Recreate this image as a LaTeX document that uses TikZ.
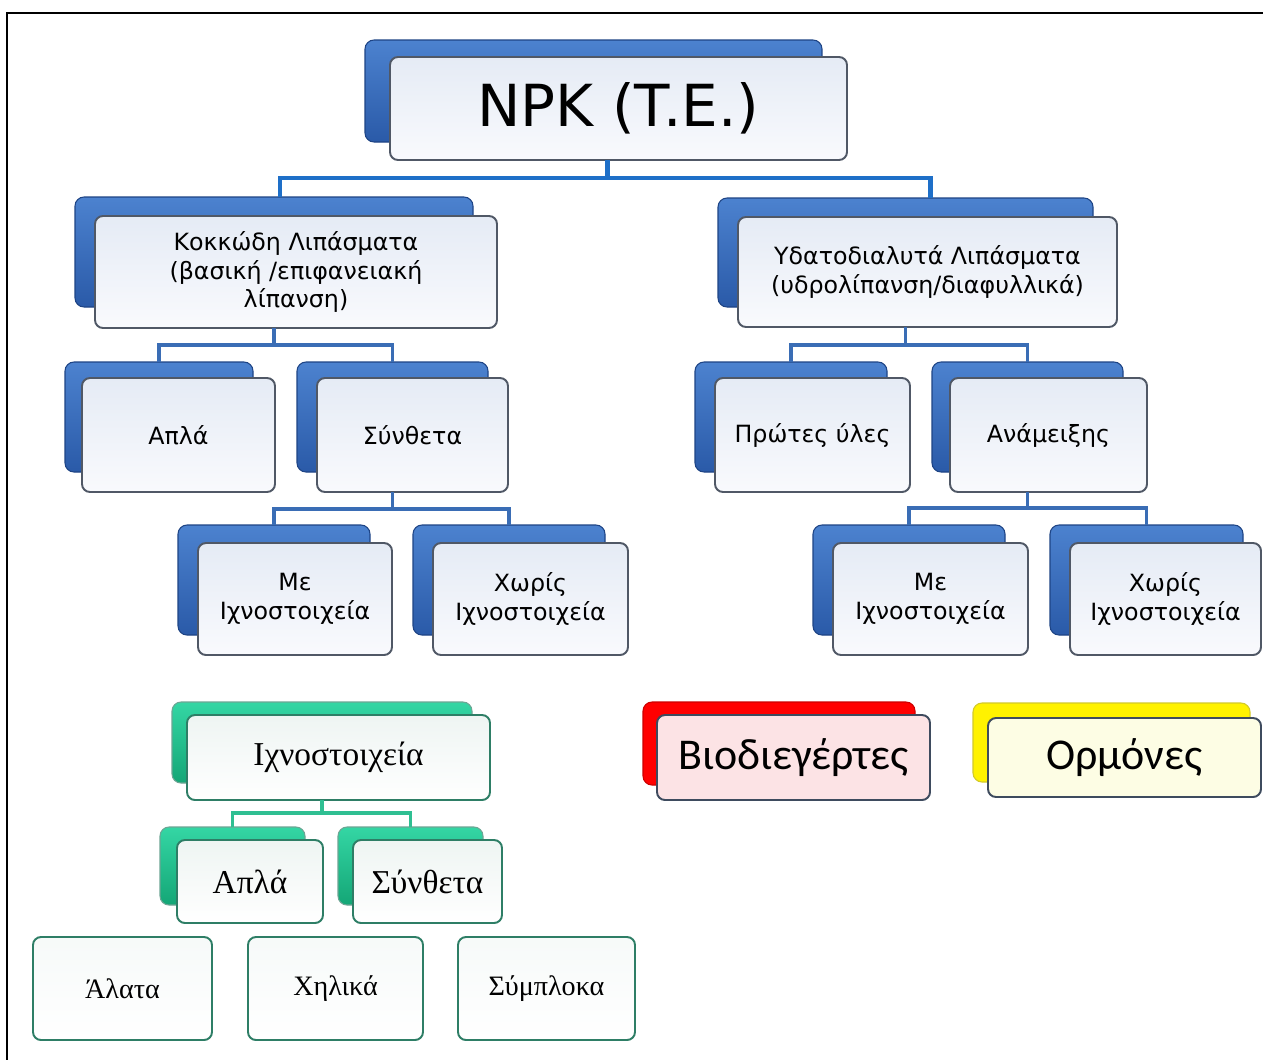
\documentclass[tikz,border=0pt]{standalone}
\usepackage{fontspec}
\newfontfamily\dsf{DejaVu Sans}
\newfontfamily\tsf{Liberation Serif}
\newfontfamily\csf{Carlito}
\usetikzlibrary{calc}
\newcommand\bk[6]{\node[#6,minimum width={(#4-#2)*0.02cm},minimum height={(#5-#3)*0.02cm}] (#1) at ({(#2+#4)/2},{(#3+#5)/2}) {};}
\newcommand\fr[7]{\node[#6,minimum width={(#4-#2)*0.02cm},minimum height={(#5-#3)*0.02cm}] (#1) at ({(#2+#4)/2},{(#3+#5)/2}) {#7};}
\definecolor{bluetop}{HTML}{4C82CF}
\definecolor{bluebot}{HTML}{2A5AA8}
\definecolor{blueedge}{HTML}{1E4485}
\definecolor{greentop}{HTML}{34D6A4}
\definecolor{greenbot}{HTML}{14A676}
\definecolor{greenedge}{HTML}{2E7E66}
\definecolor{frontedge}{HTML}{505866}
\definecolor{fronttop}{HTML}{E5EBF5}
\definecolor{frontbot}{HTML}{F9FAFD}
\definecolor{busblue}{HTML}{1E6FC8}
\definecolor{busblue2}{HTML}{3A6DB5}
\definecolor{busgreen}{HTML}{2FBF92}
\definecolor{pinkfill}{HTML}{FCE3E5}
\definecolor{yelfill}{HTML}{FDFDE4}
\definecolor{slate}{HTML}{3E4B5E}
\tikzset{
  back/.style={rounded corners=0.18cm, inner sep=0pt, outer sep=0pt},
  bblue/.style={back, top color=bluetop, bottom color=bluebot, draw=blueedge, line width=0.6pt},
  bgreen/.style={back, top color=greentop, bottom color=greenbot, draw=greenedge!70, line width=0.6pt},
  bred/.style={back, fill=red, draw=red!80!black, line width=0.6pt},
  byel/.style={back, fill=yellow, draw=yellow!80!black, line width=0.6pt},
  front/.style={rounded corners=0.16cm, inner sep=0pt, outer sep=0pt, align=center, line width=1.1pt},
  fblue/.style={front, draw=frontedge, top color=fronttop, bottom color=frontbot, font=\dsf\fontsize{13.5}{16.4}\selectfont},
  fnpk/.style={front, draw=frontedge, top color=fronttop, bottom color=frontbot, font=\dsf\fontsize{33}{38}\selectfont},
  fgreen/.style={front, draw=greenedge, top color=greenedge!8, bottom color=white, font=\tsf\fontsize{19}{22}\selectfont},
  fleaf/.style={front, draw=greenedge, top color=greenedge!4, bottom color=white, font=\tsf\fontsize{16}{19}\selectfont},
  fred/.style={front, draw=slate, fill=pinkfill, font=\csf\fontsize{25}{29}\selectfont},
  fyel/.style={front, draw=slate, fill=yelfill, font=\csf\fontsize{25}{29}\selectfont},
  bus1/.style={draw=busblue, line width=2.8pt},
  bus2/.style={draw=busblue2, line width=1.8pt},
  bus3/.style={draw=busgreen, line width=1.8pt},
  frame/.style={draw=black, line width=1.2pt}
}
\begin{document}
\begin{tikzpicture}[x=0.02cm, y=-0.02cm]
\useasboundingbox (0,0) rectangle (1263,1059);
\fill[white] (0,0) rectangle (1263,1059);
\draw[frame] (7,1062) -- (7,13) -- (1266,13);

% back boxes
\bk{npkb}{365}{40}{822}{142}{bblue}
\bk{kokb}{75}{197}{473}{307}{bblue}
\bk{ydab}{718}{198}{1093}{307}{bblue}
\bk{aplb}{65}{362}{253}{472}{bblue}
\bk{synb}{297}{362}{488}{472}{bblue}
\bk{me1b}{178}{525}{370}{635}{bblue}
\bk{xo1b}{413}{525}{605}{635}{bblue}
\bk{prwb}{695}{362}{887}{472}{bblue}
\bk{anab}{932}{362}{1123}{472}{bblue}
\bk{me2b}{813}{525}{1005}{635}{bblue}
\bk{xo2b}{1050}{525}{1243}{635}{bblue}
\bk{ixnb}{172}{702}{472}{783}{bgreen}
\bk{gaplb}{160}{827}{305}{905}{bgreen}
\bk{gsynb}{338}{827}{483}{905}{bgreen}
\bk{biob}{643}{702}{915}{785}{bred}
\bk{ormb}{973}{703}{1250}{782}{byel}

% front boxes
\fr{npk}{390}{57}{847}{160}{fnpk}{NPK (T.E.)}
\fr{kok}{95}{216}{497}{328}{fblue}{Κοκκώδη Λιπάσματα\\(βασική /επιφανειακή\\λίπανση)}
\fr{yda}{738}{217}{1117}{327}{fblue}{Υδατοδιαλυτά Λιπάσματα\\(υδρολίπανση/διαφυλλικά)}
\fr{apl}{82}{378}{275}{492}{fblue}{Απλά}
\fr{syn}{317}{378}{508}{492}{fblue}{Σύνθετα}
\fr{me1}{198}{543}{392}{655}{fblue}{Με\\Ιχνοστοιχεία}
\fr{xo1}{433}{543}{628}{655}{fblue}{Χωρίς\\Ιχνοστοιχεία}
\fr{prw}{715}{378}{910}{492}{fblue}{Πρώτες ύλες}
\fr{ana}{950}{378}{1147}{492}{fblue}{Ανάμειξης}
\fr{me2}{833}{543}{1028}{655}{fblue}{Με\\Ιχνοστοιχεία}
\fr{xo2}{1070}{543}{1261}{655}{fblue}{Χωρίς\\Ιχνοστοιχεία}
\fr{ixn}{187}{715}{490}{800}{fgreen}{Ιχνοστοιχεία}
\fr{gapl}{177}{840}{323}{923}{fgreen}{Απλά}
\fr{gsyn}{353}{840}{502}{923}{fgreen}{Σύνθετα}
\fr{ala}{33}{937}{212}{1040}{fleaf}{Άλατα}
\fr{xhl}{248}{937}{423}{1040}{fleaf}{Χηλικά}
\fr{sym}{458}{937}{635}{1040}{fleaf}{Σύμπλοκα}
\fr{bio}{657}{715}{930}{800}{fred}{Βιοδιεγέρτες}
\fr{orm}{988}{718}{1261}{797}{fyel}{Ορμόνες}

% connectors
\draw[bus1] ($(npk.south)+(-11,0)$) -- ++(0,18) coordinate (b1);
\draw[bus1] ($(kokb.north)+(6,0)$) |- (b1) -| ($(ydab.north)+(25,0)$);

\draw[bus2] (kokb.south |- kok.south) -- ++(0,17) coordinate (b2);
\draw[bus2] (aplb.north) |- (b2) -| (synb.north);

\draw[bus2] (synb.south |- syn.south) -- ++(0,17) coordinate (b3);
\draw[bus2] (me1b.north) |- (b3) -| (xo1b.north);

\draw[bus2] (ydab.south |- yda.south) -- ++(0,18) coordinate (b4);
\draw[bus2] (prwb.north) |- (b4) -| (anab.north);

\draw[bus2] (anab.south |- ana.south) -- ++(0,16) coordinate (b5);
\draw[bus2] (me2b.north) |- (b5) -| (xo2b.north);

\draw[bus3] (ixnb.south |- ixn.south) -- ++(0,13) coordinate (b6);
\draw[bus3] (gaplb.north) |- (b6) -| (gsynb.north);
\end{tikzpicture}
\end{document}
